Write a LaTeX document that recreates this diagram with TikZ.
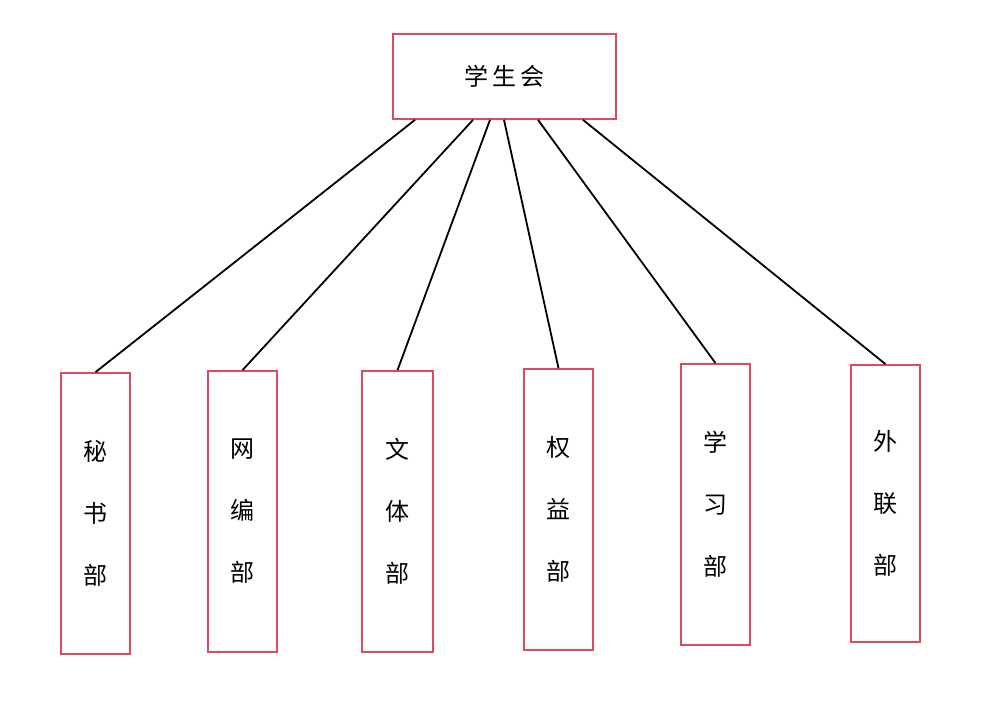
\documentclass[tikz,border=0pt]{standalone}
\usepackage{fontspec}
\newfontfamily\cjk{Noto Sans CJK SC}
\definecolor{boxred}{HTML}{E04A5F}
\begin{document}
\begin{tikzpicture}[x=1pt,y=1pt,
  orgbox/.style={draw=boxred,line width=1.7pt,inner sep=0pt,align=center,font=\cjk\fontsize{24}{62}\selectfont},
  link/.style={draw=black,line width=1.8pt}]
\useasboundingbox (0,0) rectangle (1006,-705);
\node[orgbox,minimum width=223,minimum height=85] (top) at (504.5,-76.5) {学\hspace{4pt}生\hspace{4pt}会};
\node[orgbox,minimum width=69,minimum height=281] (b1) at (95.5,-513.5) {秘\\书\\部};
\node[orgbox,minimum width=69,minimum height=281] (b2) at (242.5,-511.5) {网\\编\\部};
\node[orgbox,minimum width=71,minimum height=281] (b3) at (397.5,-511.5) {文\\体\\部};
\node[orgbox,minimum width=69,minimum height=281] (b4) at (558.5,-509.5) {权\\益\\部};
\node[orgbox,minimum width=69,minimum height=281] (b5) at (715.5,-504.5) {学\\习\\部};
\node[orgbox,minimum width=69,minimum height=277] (b6) at (885.5,-503.5) {外\\联\\部};
\draw[link] ([xshift=-89.5pt]top.south) -- (b1.north);
\draw[link] ([xshift=-31.5pt]top.south) -- (b2.north);
\draw[link] ([xshift=-14.5pt]top.south) -- (b3.north);
\draw[link] ([xshift=-0.5pt]top.south) -- (b4.north);
\draw[link] ([xshift=33.5pt]top.south) -- (b5.north);
\draw[link] ([xshift=78.5pt]top.south) -- (b6.north);
\end{tikzpicture}
\end{document}
